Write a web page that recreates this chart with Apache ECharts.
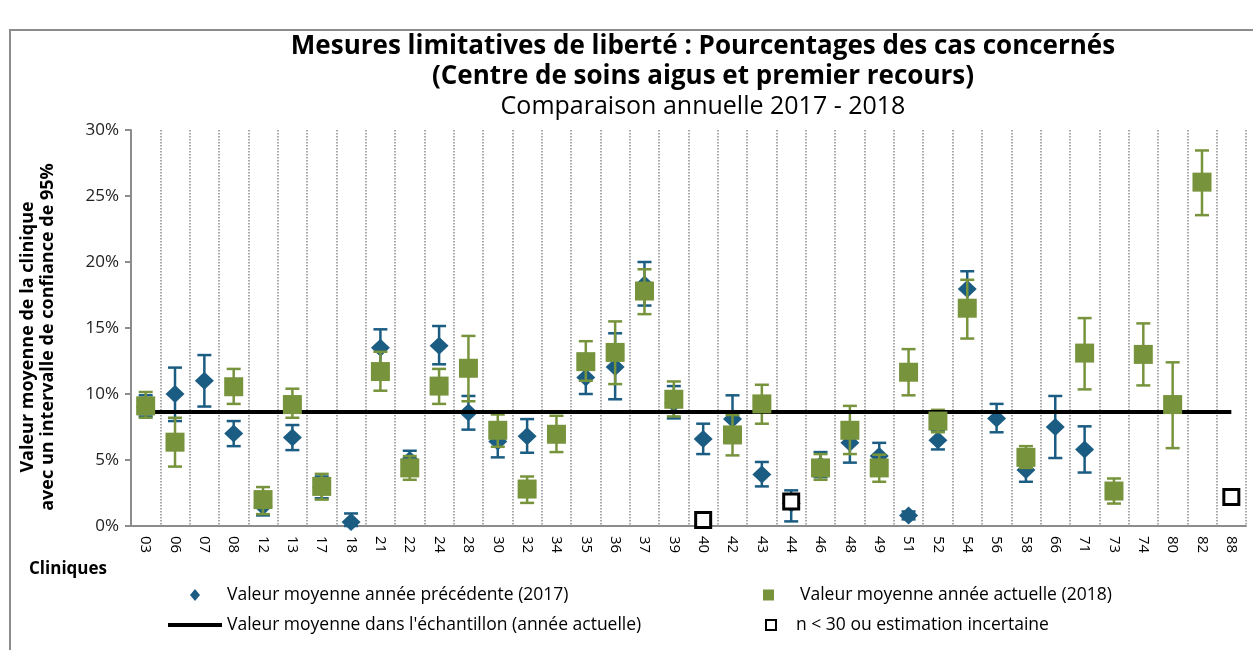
<!DOCTYPE html>
<html>
<head>
<meta charset="utf-8">
<script src="https://cdn.jsdelivr.net/npm/echarts@6/dist/echarts.min.js"></script>
<style>
  html, body { margin: 0; padding: 0; background: #fff; }
  #chart { width: 1253px; height: 650px; }
</style>
</head>
<body>
<div id="chart"></div>
<script>
// cliniques
var clinics = ['03','06','07','08','12','13','17','18','21','22','24','28','30','32','34','35','36','37','39',
  '40','42','43','44','46','48','49','51','52','54','56','58','66','71','73','74','80','82','88'];

// année précédente (2017) : valeur, borne basse, borne haute (%)
var val2017 = [9.0,10.0,11.0,7.0,1.5,6.7,2.9,0.3,13.5,5.0,13.65,8.6,6.4,6.8,null,11.25,12.05,18.3,9.3,
  6.6,8.1,3.9,1.7,4.6,6.3,5.3,0.8,6.5,17.95,8.15,4.25,7.5,5.8,null,null,null,null,null];
var lo2017 = [8.3,7.95,9.05,6.05,0.8,5.75,2.1,0.0,12.1,4.3,12.25,7.3,5.2,5.55,null,10.0,9.6,16.7,8.15,
  5.45,6.3,3.0,0.35,3.7,4.8,4.3,0.5,5.8,16.6,7.1,3.35,5.15,4.05,null,null,null,null,null];
var hi2017 = [9.9,12.0,12.95,7.95,2.5,7.65,3.75,0.95,14.9,5.7,15.15,9.85,7.6,8.1,null,12.5,14.6,20.0,10.6,
  7.75,9.9,4.85,2.7,5.6,7.8,6.3,1.1,7.2,19.3,9.25,5.1,9.85,7.55,null,null,null,null,null];

// année actuelle (2018)
var val2018 = [9.1,6.35,null,10.55,2.0,9.2,3.0,null,11.7,4.4,10.6,11.95,7.25,2.8,6.95,12.45,13.15,17.8,9.6,
  null,6.9,9.25,null,4.4,7.25,4.4,11.65,7.95,16.5,null,5.2,null,13.1,2.65,13.0,9.2,26.05,null];
var lo2018 = [8.2,4.5,null,9.25,0.9,8.2,2.0,null,10.25,3.5,9.25,9.45,6.0,1.75,5.6,11.0,10.75,16.05,8.3,
  null,5.35,7.75,null,3.5,5.45,3.35,9.9,7.1,14.2,null,4.4,null,10.35,1.7,10.65,5.9,23.55,null];
var hi2018 = [10.15,8.2,null,11.9,2.95,10.4,3.95,null,13.2,5.3,11.9,14.4,8.45,3.75,8.35,14.0,15.5,19.45,10.95,
  null,8.4,10.7,null,5.45,9.1,5.4,13.4,8.8,18.65,null,6.05,null,15.75,3.6,15.35,12.4,28.45,null];

// n < 30 ou estimation incertaine
var uncertain = [null,null,null,null,null,null,null,null,null,null,null,null,null,null,null,null,null,null,null,
  0.45,null,null,1.85,null,null,null,null,null,null,null,null,null,null,null,null,null,null,2.2];

var meanSample = 8.66;
var yTicks = [0, 5, 10, 15, 20, 25, 30];

var BLUE = '#1B5C82', GREEN = '#77933C';
var NAME17 = 'Valeur moyenne année précédente (2017)';
var NAME18 = 'Valeur moyenne année actuelle (2018)';
var NAMEM = "Valeur moyenne dans l'échantillon (année actuelle)";
var NAMEU = 'n < 30 ou estimation incertaine';

function dash(arr){ return arr.map(function(v){ return v == null ? '-' : v; }); }
function bars(val, lo, hi){
  var out = [];
  val.forEach(function(v, i){ if (v != null) out.push([i, lo[i], hi[i]]); });
  return out;
}
function errBar(color){
  return function(params, api){
    var top = api.coord([api.value(0), api.value(2)]);
    var bot = api.coord([api.value(0), api.value(1)]);
    var w = 7, st = { stroke: color, lineWidth: 2.5 };
    return { type: 'group', children: [
      { type: 'line', shape: { x1: top[0], y1: top[1], x2: bot[0], y2: bot[1] }, style: st },
      { type: 'line', shape: { x1: top[0]-w, y1: top[1], x2: top[0]+w, y2: top[1] }, style: st },
      { type: 'line', shape: { x1: bot[0]-w, y1: bot[1], x2: bot[0]+w, y2: bot[1] }, style: st }
    ]};
  };
}

var font = 'Open Sans';
var legendText = { fontSize: 17.5, color: '#000', fontFamily: font };
var chart = echarts.init(document.getElementById('chart'));
chart.setOption({
  animation: false,
  textStyle: { fontFamily: font },
  title: {
    text: 'Mesures limitatives de liberté : Pourcentages des cas concernés\n(Centre de soins aigus et premier recours)',
    subtext: 'Comparaison annuelle 2017 - 2018',
    left: 698, top: 27, textAlign: 'center', itemGap: 0,
    textStyle: { fontFamily: font, fontSize: 26, fontWeight: 'bold', color: '#000', lineHeight: 30 },
    subtextStyle: { fontFamily: font, fontSize: 25, color: '#000', lineHeight: 30 }
  },
  grid: { left: 131, right: 7, top: 130, bottom: 124 },
  graphic: [
    { type: 'rect', shape: { x: 10, y: 30, width: 1260, height: 640 }, style: { fill: 'none', stroke: '#8c8c8c', lineWidth: 2 }, silent: true },
    { type: 'text', left: 29, top: 561, style: { text: 'Cliniques', font: 'bold 17px "Open Sans"', fill: '#000' } }
  ],
  xAxis: {
    type: 'category', data: clinics, boundaryGap: true,
    axisLine: { lineStyle: { color: '#8c8c8c', width: 2 } },
    axisTick: { show: false },
    axisLabel: { rotate: -90, color: '#000', fontSize: 15, margin: 10, interval: 0 },
    splitLine: { show: true, interval: 0, lineStyle: { type: 'dotted', color: '#8c8c8c', width: 1.5 } }
  },
  yAxis: {
    type: 'value', min: yTicks[0], max: yTicks[yTicks.length-1], interval: 5,
    name: 'Valeur moyenne de la clinique\navec un intervalle de confiance de 95%',
    nameLocation: 'middle', nameRotate: 90, nameGap: 73,
    nameTextStyle: { fontFamily: font, fontSize: 18, fontWeight: 'bold', color: '#000', lineHeight: 20, padding: [0, 18, 0, 0] },
    axisLine: { show: true, lineStyle: { color: '#8c8c8c', width: 2 } },
    axisTick: { show: true, inside: false, length: 6, lineStyle: { color: '#8c8c8c', width: 2 } },
    axisLabel: { formatter: '{value}%', color: '#222', fontSize: 17, margin: 12 },
    splitLine: { show: false }
  },
  legend: [
    { data: [NAME17], left: 185, top: 581, icon: 'diamond', itemWidth: 10, itemHeight: 12,
      textStyle: Object.assign({ padding: [0, 0, 0, 22] }, legendText) },
    { data: [NAME18], left: 758, top: 581, icon: 'rect', itemWidth: 11, itemHeight: 11,
      textStyle: Object.assign({ padding: [0, 0, 0, 21] }, legendText) },
    { data: [NAMEM], left: 163, top: 611, icon: 'rect', itemWidth: 54, itemHeight: 4,
      textStyle: legendText },
    { data: [NAMEU], left: 760, top: 611, icon: 'rect', itemWidth: 10, itemHeight: 10,
      itemStyle: { borderWidth: 2 },
      textStyle: Object.assign({ padding: [0, 0, 0, 15] }, legendText) }
  ],
  series: [
    { name: NAMEM, type: 'line', data: [], itemStyle: { color: '#000' }, lineStyle: { color: '#000', width: 4 },
      z: 1, silent: true,
      markLine: { silent: true, symbol: 'none', label: { show: false },
        lineStyle: { color: '#000', width: 4, type: 'solid' },
        data: [[{ coord: [clinics[0], meanSample] }, { coord: [clinics[clinics.length-1], meanSample] }]] } },
    { name: 'err2017', type: 'custom', renderItem: errBar(BLUE), data: bars(val2017, lo2017, hi2017),
      encode: { x: 0, y: [1, 2] }, z: 2, silent: true },
    { name: NAME17, type: 'scatter', data: dash(val2017), symbol: 'diamond', symbolSize: [19, 18],
      itemStyle: { color: BLUE, opacity: 1 }, z: 3 },
    { name: 'err2018', type: 'custom', renderItem: errBar(GREEN), data: bars(val2018, lo2018, hi2018),
      encode: { x: 0, y: [1, 2] }, z: 4, silent: true },
    { name: NAME18, type: 'scatter', data: dash(val2018), symbol: 'rect', symbolSize: 19,
      itemStyle: { color: GREEN, opacity: 1 }, z: 5 },
    { name: NAMEU, type: 'scatter', data: dash(uncertain), symbol: 'rect', symbolSize: 15,
      itemStyle: { color: '#fff', borderColor: '#000', borderWidth: 3, opacity: 1 }, z: 6 }
  ]
});
</script>
</body>
</html>
